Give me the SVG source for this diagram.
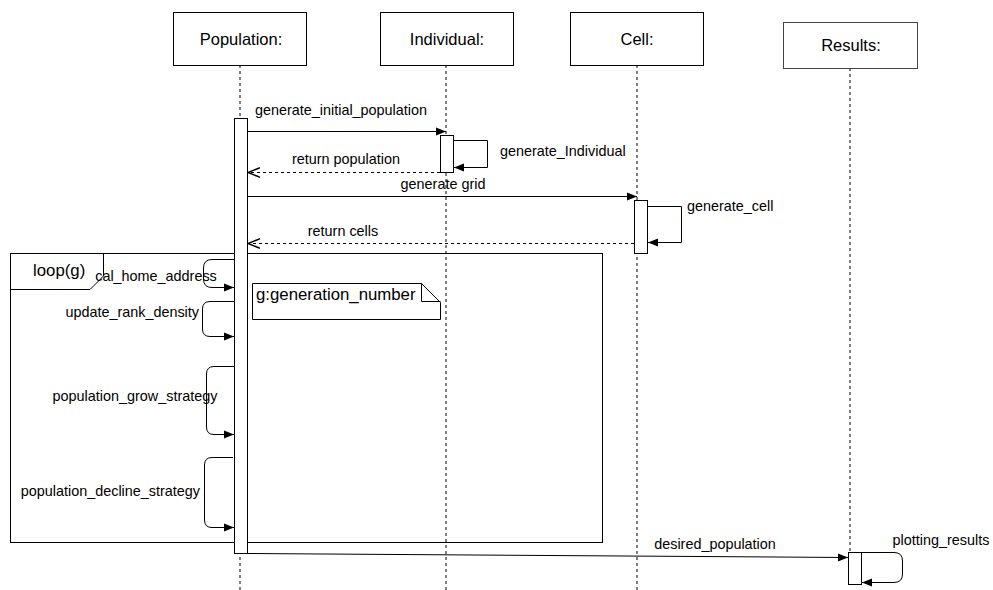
<svg xmlns="http://www.w3.org/2000/svg" width="993" height="590" viewBox="0 0 993 590">
<defs>
<style>
.box{fill:#fff;stroke:#000;stroke-width:1}
.life{stroke:#000;stroke-width:1;stroke-dasharray:3,3;fill:none}
.act{fill:#fff;stroke:#000;stroke-width:1}
.msg{stroke:#000;stroke-width:1;fill:none}
.ret{stroke:#000;stroke-width:1;fill:none;stroke-dasharray:3,3}
.t{font-family:"Liberation Sans",Arial,sans-serif;font-size:14.4px;fill:#000}
.h{font-family:"Liberation Sans",Arial,sans-serif;font-size:16.5px;fill:#000;text-anchor:middle}
.b{font-size:16.8px}
</style>
<marker id="fill" viewBox="0 0 10 10" refX="10" refY="5" markerWidth="10" markerHeight="10" markerUnits="userSpaceOnUse" orient="auto">
<path d="M0,1 L10,5 L0,9 Z" fill="#000"/>
</marker>
<marker id="open" viewBox="0 0 10 10" refX="10" refY="5" markerWidth="12" markerHeight="12" markerUnits="userSpaceOnUse" orient="auto">
<path d="M10,1 L0,5 L10,9" fill="none" stroke="#000" stroke-width="1.2" transform="rotate(180 5 5)"/>
</marker>
</defs>
<rect width="993" height="590" fill="#fff"/>

<g id="lifelines">
<line class="life" x1="240" y1="65" x2="240" y2="590"/>
<line class="life" x1="446" y1="65" x2="446" y2="590"/>
<line class="life" x1="637" y1="65" x2="637" y2="590"/>
<line class="life" x1="850" y1="68" x2="850" y2="552"/>
</g>

<g id="population"><rect class="box" x="173.5" y="12.5" width="133" height="53"/><text class="h" x="241" y="45">Population:</text></g>
<g id="individual"><rect class="box" x="380.5" y="12.5" width="133" height="53"/><text class="h" x="447" y="45">Individual:</text></g>
<g id="cell"><rect class="box" x="570.5" y="12.5" width="133" height="53"/><text class="h" x="637" y="45">Cell:</text></g>
<g id="results"><rect class="box" x="783.5" y="22.5" width="134" height="46" style="stroke:#444"/><text class="h" x="851" y="51">Results:</text></g>

<g id="loop-frame">
<rect x="10.5" y="253.5" width="592" height="289" fill="none" stroke="#000"/>
<path d="M10.5,289.5 L90,289.5 L103.5,276 L103.5,253.5" fill="none" stroke="#000"/>
<text class="t b" x="33" y="276">loop(g)</text>
</g>

<g id="activations">
<rect class="act" x="234.5" y="118.5" width="13" height="435"/>
<rect class="act" x="440.5" y="135.5" width="13" height="37"/>
<rect class="act" x="634.5" y="200.5" width="13" height="53"/>
<rect class="act" x="848.5" y="552.5" width="13" height="32"/>
</g>

<g id="note">
<path d="M252.5,283.5 L421.5,283.5 L440.5,302.5 L440.5,319.5 L252.5,319.5 Z" fill="#fff" stroke="#000"/>
<path d="M421.5,283.5 L421.5,301.5 L440.5,301.5" fill="none" stroke="#000"/>
<text class="t b" x="256" y="300">g:generation_number</text>
</g>

<g id="connectors">
<line class="msg" x1="247.5" y1="131.5" x2="446" y2="131.5" marker-end="url(#fill)"/>
<path class="msg" d="M453.5,140.5 L487.5,140.5 L487.5,167.5 L454,167.5" marker-end="url(#fill)"/>
<line class="ret" x1="440" y1="172.5" x2="248" y2="172.5" marker-end="url(#open)"/>
<line class="msg" x1="247.5" y1="196.5" x2="637" y2="196.5" marker-end="url(#fill)"/>
<path class="msg" d="M647.5,206.5 L681.5,206.5 L681.5,242.5 L648,242.5" marker-end="url(#fill)"/>
<line class="ret" x1="634" y1="243.5" x2="248" y2="243.5" marker-end="url(#open)"/>

<path class="msg" d="M234,259.5 L212,259.5 Q203.5,259.5 203.5,268 L203.5,279 Q203.5,287.5 212,287.5 L234,287.5" marker-end="url(#fill)"/>
<path class="msg" d="M234,301.5 L210,301.5 Q202.5,301.5 202.5,309 L202.5,329 Q202.5,336.5 210,336.5 L234,336.5" marker-end="url(#fill)"/>
<path class="msg" d="M234,366.5 L214,366.5 Q206.5,366.5 206.5,374 L206.5,427 Q206.5,434.5 214,434.5 L234,434.5" marker-end="url(#fill)"/>
<path class="msg" d="M233,457.5 L212,457.5 Q204.5,457.5 204.5,465 L204.5,520 Q204.5,527.5 212,527.5 L234,527.5" marker-end="url(#fill)"/>

<line class="msg" x1="247.5" y1="553.5" x2="848" y2="557.5" marker-end="url(#fill)"/>
<path class="msg" d="M861.5,552.5 L894,552.5 Q902.5,552.5 902.5,561 L902.5,574 Q902.5,582.5 894,582.5 L862,582.5" marker-end="url(#fill)"/>
</g>

<g id="labels">
<text class="t" x="341" y="115" text-anchor="middle">generate_initial_population</text>
<text class="t" x="500" y="156">generate_Individual</text>
<text class="t" x="346" y="164" text-anchor="middle">return population</text>
<text class="t" x="443" y="189" text-anchor="middle">generate grid</text>
<text class="t" x="687" y="211">generate_cell</text>
<text class="t" x="343" y="236" text-anchor="middle">return cells</text>
<text class="t" x="156" y="281" text-anchor="middle">cal_home_address</text>
<text class="t" x="199" y="317" text-anchor="end">update_rank_density</text>
<text class="t" x="135" y="401" text-anchor="middle">population_grow_strategy</text>
<text class="t" x="200" y="496" text-anchor="end">population_decline_strategy</text>
<text class="t" x="715" y="549" text-anchor="middle">desired_population</text>
<text class="t" x="941" y="545" text-anchor="middle">plotting_results</text>
</g>
</svg>
